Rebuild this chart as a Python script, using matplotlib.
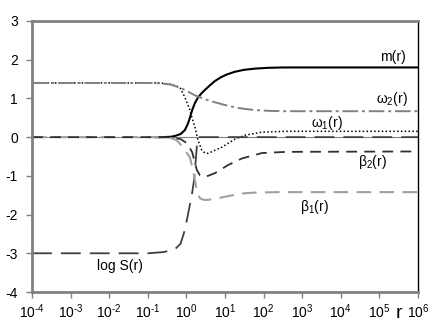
import numpy as np
import matplotlib
matplotlib.use('Agg')
import matplotlib.pyplot as plt

plt.rcParams['font.family'] = ['Liberation Sans', 'DejaVu Sans']
plt.rcParams['mathtext.fontset'] = 'custom'
plt.rcParams['mathtext.rm'] = 'Liberation Sans'
plt.rcParams['mathtext.it'] = 'Liberation Sans'
plt.rcParams['axes.unicode_minus'] = False

# values, x given as log10(r)
m_logr = [-0.8, -0.6, -0.4, -0.3, -0.15, -0.04, 0.04, 0.09, 0.15, 0.22, 0.27, 0.3, 0.38, 0.48, 0.6, 0.74, 0.9, 1.05, 1.26, 1.5, 1.78, 2.1, 2.5, 6]
m_val = [0, 0, 0.01, 0.03, 0.08, 0.18, 0.35, 0.5, 0.7, 0.88, 0.97, 1.02, 1.12, 1.22, 1.33, 1.45, 1.55, 1.62, 1.69, 1.74, 1.77, 1.79, 1.8, 1.8]

w2_logr = [-4, -1.0, -0.68, -0.42, -0.17, 0.0, 0.22, 0.48, 0.74, 1.0, 1.26, 1.5, 1.78, 2.1, 2.5, 3, 6]
w2_val = [1.4, 1.4, 1.39, 1.36, 1.28, 1.2, 1.08, 0.98, 0.9, 0.83, 0.77, 0.73, 0.7, 0.68, 0.67, 0.67, 0.67]

w1_logr = [-4, -0.7, -0.42, -0.17, -0.04, 0.09, 0.16, 0.22, 0.27, 0.3, 0.4, 0.48, 0.56, 0.74, 0.92, 1.08, 1.26, 1.52, 1.96, 2.6, 6]
w1_val = [1.4, 1.4, 1.37, 1.29, 1.03, 0.7, 0.45, 0.26, 0.05, -0.08, -0.34, -0.41, -0.42, -0.34, -0.26, -0.16, -0.05, 0.05, 0.13, 0.15, 0.15]

b2_logr = [-4, -0.6, -0.35, -0.15, 0.02, 0.15, 0.22, 0.27, 0.35, 0.48, 0.74, 1.08, 1.44, 1.96, 2.6, 6]
b2_val = [0, 0, -0.01, -0.05, -0.16, -0.39, -0.65, -0.85, -0.98, -1.03, -0.93, -0.72, -0.55, -0.41, -0.38, -0.37]

b1_logr = [-4, -0.7, -0.42, -0.25, -0.09, 0.09, 0.17, 0.27, 0.35, 0.45, 0.56, 0.75, 0.95, 1.2, 1.5, 1.83, 2.4, 6]
b1_val = [0, 0, -0.02, -0.08, -0.26, -0.52, -0.85, -1.37, -1.58, -1.62, -1.62, -1.59, -1.55, -1.5, -1.45, -1.43, -1.42, -1.42]

s_logr = [-4, -1.0, -0.6, -0.3, -0.15, -0.04, 0.04, 0.14, 0.2, 0.25, 0.28, 0.32, 6]
s_val = [-3, -3, -2.97, -2.9, -2.75, -2.4, -2.0, -1.5, -1.1, -0.5, -0.1, 0, 0]

x_exps = [-4, -3, -2, -1, 0, 1, 2, 3, 4, 5, 6]
y_ticks = [-4, -3, -2, -1, 0, 1, 2, 3]

fig = plt.figure(figsize=(4.35, 3.27), dpi=100)
ax = fig.add_axes([32/435, 1-292/327, (418-32)/435, (292-21)/327])

ax.axhline(0, color='#808080', lw=0.8, zorder=1)

ax.plot(10**np.array(m_logr), m_val, color='black', lw=1.5)
ax.plot(10**np.array(w1_logr), w1_val, color='black', lw=1.1, dashes=(1, 1.5))
ax.plot(10**np.array(w2_logr), w2_val, color='#808080', lw=1.4, dashes=(8, 2, 1.5, 2))
ax.plot(10**np.array(s_logr), s_val, color='#404040', lw=1.3, dashes=(11, 5))
ax.plot(10**np.array(b1_logr), b1_val, color='#a0a0a0', lw=1.5, dashes=(7, 4))
ax.plot(10**np.array(b2_logr), b2_val, color='#303030', lw=1.3, dashes=(6, 4))

ax.set_xscale('log')
ax.set_xlim(1e-4, 1e6)
ax.set_ylim(-4, 3)
ax.set_xticks([10.0**e for e in x_exps])
ax.set_xticklabels(['10$^{%s}$' % str(e).replace('-', '\u2010') for e in x_exps])
ax.minorticks_off()
ax.set_yticks(y_ticks)
ax.set_yticklabels([str(v) for v in y_ticks])

for s in ['left', 'bottom', 'top']:
    ax.spines[s].set_color('#808080')
    ax.spines[s].set_linewidth(2)
ax.spines['right'].set_color('black')
ax.spines['right'].set_linewidth(1)
ax.tick_params(axis='both', direction='out', length=4, width=1, color='#808080', labelsize=10)
ax.tick_params(axis='y', pad=6)

txt = dict(fontsize=10, ha='center', va='center')
ax.text(10**5.35, 2.07, 'm(r)', **txt)
ax.text(10**5.32, 0.98, 'ω$_2$(r)', **txt)
ax.text(10**3.64, 0.36, 'ω$_1$(r)', **txt)
ax.text(10**4.81, -0.65, 'β$_2$(r)', **txt)
ax.text(10**3.33, -1.81, 'β$_1$(r)', **txt)
ax.text(10**-1.72, -3.33, 'log S(r)', **txt)

fig.text(399/435, 1-314/327, 'r', fontsize=14, ha='center', va='center')

fig.savefig('out.png', dpi=100)
